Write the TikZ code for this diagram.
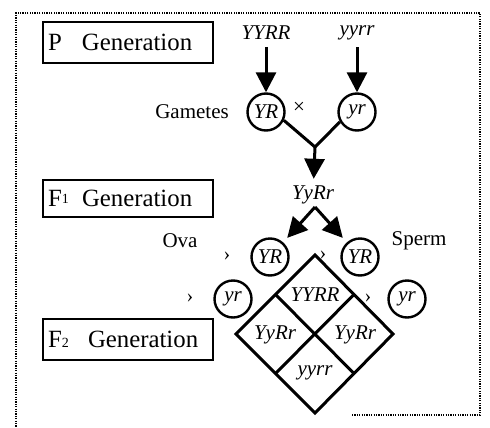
\documentclass[tikz,border=0pt]{standalone}
\usepackage{fontspec}
\setmainfont{Liberation Serif}
\usetikzlibrary{arrows.meta,calc}

\begin{document}
\begin{tikzpicture}[x=0.5pt,y=-0.5pt,
    every node/.style={font=\fontsize{10.5}{12}\selectfont},
    genbox/.style={draw,line width=1pt,text width=80pt,inner xsep=2.5pt,align=left,font=\fontsize{12.4}{14}\selectfont},
    gamete/.style={circle,draw,line width=1.2pt,minimum size=18.5pt,inner sep=0pt,font=\itshape\fontsize{10.5}{12}\selectfont},
    geno/.style={font=\itshape\fontsize{10.5}{12}\selectfont},
    bigarrow/.style={line width=1.5pt,-{Triangle[length=10pt,width=10pt]}},
    heavy/.style={line width=1.5pt},
    tick/.style={font=\fontsize{10}{12}\selectfont}]
    \useasboundingbox (0,0) rectangle (490,427);

    % dotted frame
    \draw[line width=1pt,dash pattern=on 0.6pt off 0.6pt] (352,415) -- (480,415) -- (480,13) -- (16,13) -- (16,427);

    % generation labels
    \node[genbox,minimum height=20.5pt] (boxP) at (128,42.5) {\makebox[17pt][l]{P}Generation};
    \node[genbox,minimum height=18.5pt] (boxFa) at (128,198.5) {\makebox[17pt][l]{F\raisebox{0.25ex}{\scriptsize 1}}Generation};
    \node[genbox,minimum height=20.5pt] (boxFb) at (128,339.5) {\makebox[20pt][l]{F{\scriptsize 2}}Generation};

    % parents and their gametes
    \node[geno] (pYYRR) at (266,33) {YYRR};
    \node[geno] (pyyrr) at (357,33) {yyrr};
    \node[gamete] (gYR) at (266,112) {YR};
    \node[gamete] (gyr) at (357,112) {yr};
    \node (gam) at (192,112) {Gametes};
    \node (cross) at (299,108) {×};
    \draw[bigarrow] (pYYRR) -- (gYR);
    \draw[bigarrow] (pyyrr) -- (gyr);

    \coordinate (join) at (315,147);
    \node[geno] (fYyRr) at (313,195) {YyRr};
    \draw[heavy] (gYR.-25) -- (join) -- (gyr.210);
    \draw[bigarrow] (join) -- (fYyRr);

    % F1 gametes
    \coordinate (fork) at (315,207);
    \node[gamete] (oYR) at (270,257) {YR};
    \node[gamete] (sYR) at (360,257) {YR};
    \node[gamete] (oyr) at (233,299) {yr};
    \node[gamete] (syr) at (407,299) {yr};
    \node (ova) at (180,241) {Ova};
    \node (sperm) at (419,241) {Sperm};
    \draw[bigarrow,shorten >=3pt] (fork) -- (oYR);
    \draw[bigarrow,shorten >=3pt] (fork) -- (sYR);
    \node[tick] (ta) at (227,256) {›};
    \node[tick] (tb) at (323,255) {›};
    \node[tick] (tc) at (190,298) {›};
    \node[tick] (td) at (368,298) {›};

    % F2 square
    \coordinate (dT) at (315,255);
    \coordinate (dR) at (393,334);
    \coordinate (dB) at (315,413);
    \coordinate (dL) at (236,334);
    \draw[heavy] (dT) -- (dR) -- (dB) -- (dL) -- cycle;
    \draw[heavy] ($(dT)!0.5!(dL)$) -- ($(dR)!0.5!(dB)$);
    \draw[heavy] ($(dT)!0.5!(dR)$) -- ($(dL)!0.5!(dB)$);
    \node[geno] (cTop) at (315,295) {YYRR};
    \node[geno] (cLeft) at (275,335) {YyRr};
    \node[geno] (cRight) at (355,335) {YyRr};
    \node[geno] (cBot) at (315,373) {yyrr};
\end{tikzpicture}
\end{document}
